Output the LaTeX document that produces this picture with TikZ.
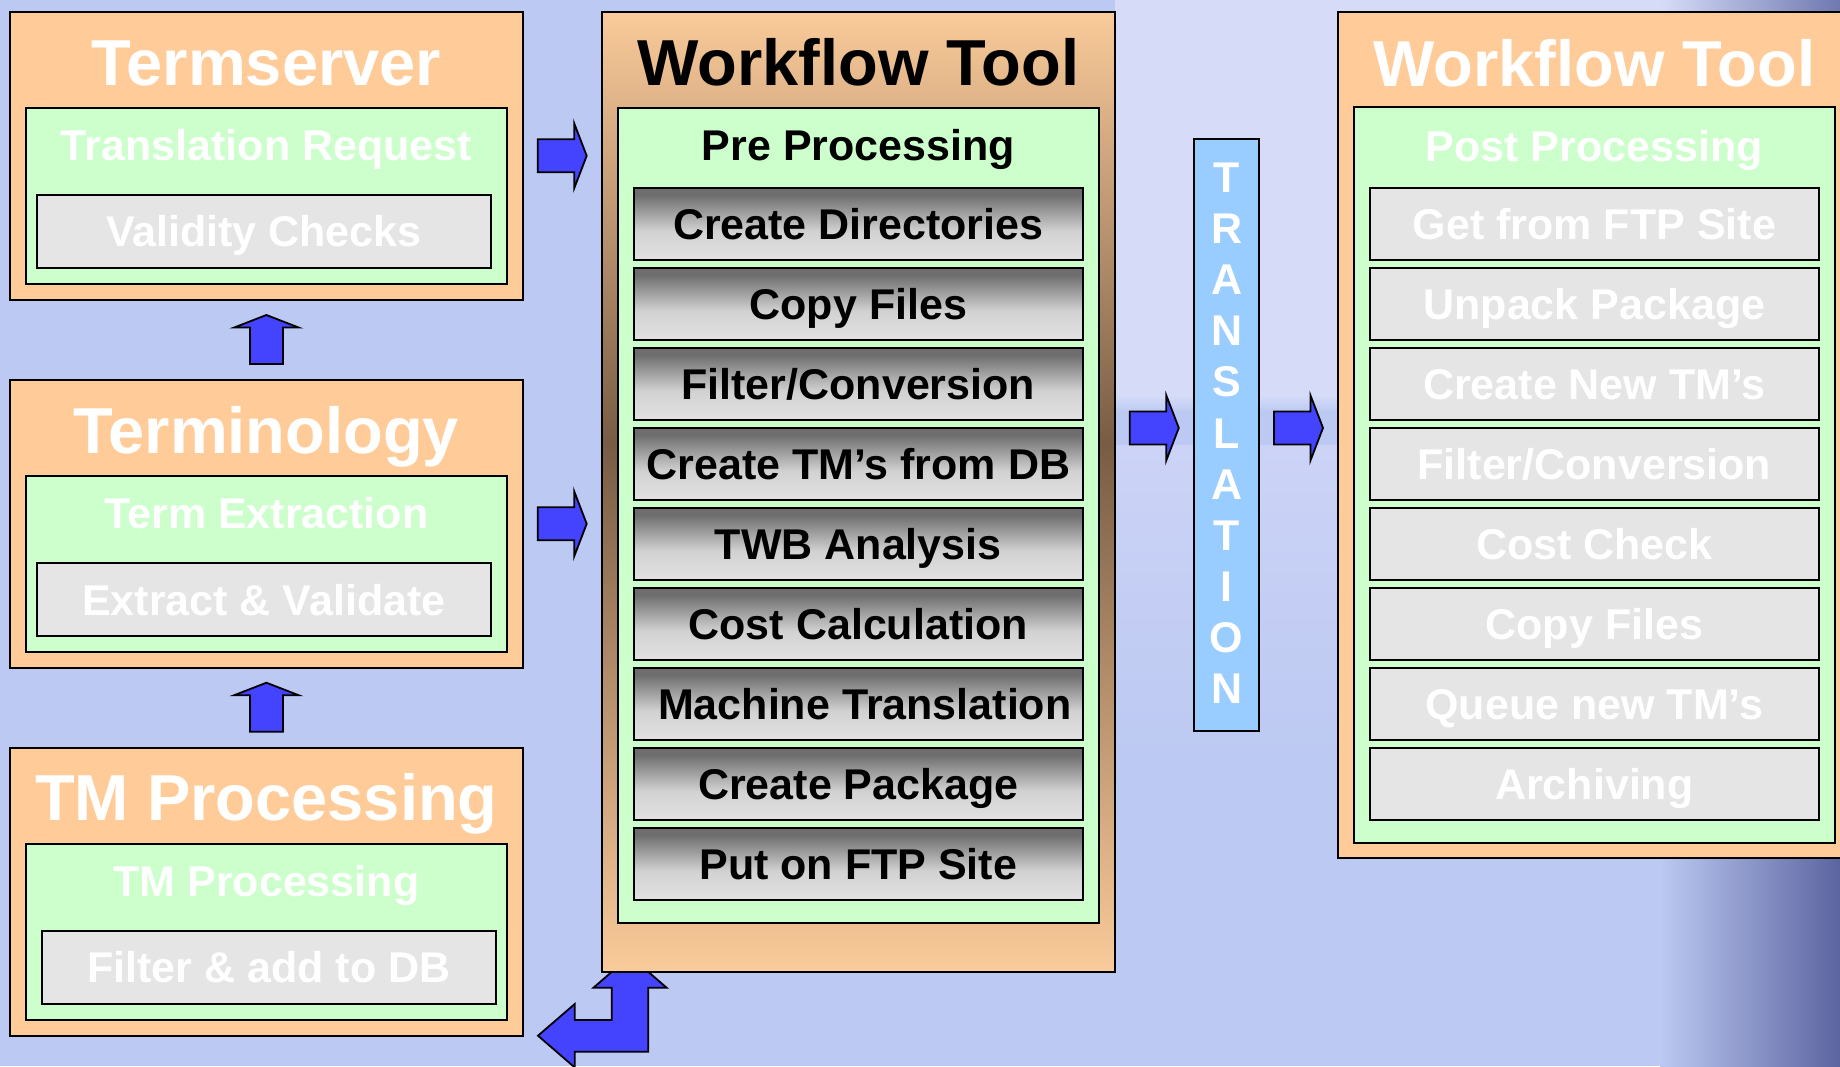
\documentclass[tikz,border=0pt]{standalone}
\usepackage{fontspec}
\setmainfont{Liberation Sans}
\usetikzlibrary{fit}

\definecolor{bgblue}{RGB}{188,201,242}
\definecolor{bglight}{RGB}{214,220,248}
\definecolor{bgmid}{RGB}{204,211,246}
\definecolor{bgdark}{RGB}{92,100,160}
\definecolor{boxorange}{RGB}{255,204,153}
\definecolor{boxgreen}{RGB}{204,255,204}
\definecolor{itemgray}{RGB}{229,229,229}
\definecolor{barblue}{RGB}{153,204,255}
\definecolor{arrowblue}{RGB}{68,68,255}
\definecolor{wfbrown}{RGB}{120,92,68}
\definecolor{wforange}{RGB}{250,203,154}
\definecolor{shadelight}{RGB}{226,226,226}
\definecolor{shademid}{RGB}{210,210,210}
\definecolor{shadedark}{RGB}{150,150,150}
\definecolor{shadetop}{RGB}{110,110,110}

% orange -> brown -> orange band of the central workflow panel
\pgfdeclareverticalshading{wfshade}{100bp}{color(0bp)=(wforange); color(25bp)=(wforange); color(52.5bp)=(wfbrown); color(75bp)=(wforange); color(100bp)=(wforange)}
% dark-top metallic look of the pre-processing steps
\pgfdeclareverticalshading{stepshade}{100bp}{color(0bp)=(shadelight); color(25bp)=(shadelight); color(45bp)=(shademid); color(60bp)=(shadedark); color(70bp)=(shadetop); color(100bp)=(shadetop)}

\newcommand\titlefont{\fontsize{65}{70}\selectfont\bfseries}
\newcommand\itemfont{\fontsize{43}{48}\selectfont\bfseries}

\tikzset{
  panel/.style={draw=black, line width=2.2pt, fill=boxorange, inner sep=0pt},
  wfpanel/.style={draw=black, line width=2.2pt, shade, shading=wfshade, inner sep=0pt},
  stage/.style={draw=black, line width=2pt, fill=boxgreen, inner sep=0pt},
  paleitem/.style={draw=black, line width=2pt, fill=itemgray, inner sep=0pt},
  darkitem/.style={draw=black, line width=2pt, shade, shading=stepshade, inner sep=0pt},
  titletext/.style={font=\titlefont, inner sep=0pt, anchor=base},
  subtext/.style={font=\itemfont, inner sep=0pt, anchor=base},
  barletter/.style={font=\itemfont, text=white, inner sep=0pt, anchor=base},
  blockarrow/.style={draw=black, line width=1.8pt, fill=arrowblue, line join=miter},
  rarrow/.pic={\path[blockarrow] (0,-16.5) -- (36.5,-16.5) -- (36.5,-32.5) -- (49,0)
      -- (36.5,32.5) -- (36.5,16.5) -- (0,16.5) -- cycle;},
  uarrow/.pic={\path[blockarrow] (-16.5,0) -- (-16.5,-36.5) -- (-32.2,-36.5) -- (0,-49)
      -- (32.2,-36.5) -- (16.5,-36.5) -- (16.5,0) -- cycle;},
}
% label of a step box: capitals centred on the box's middle line
\newcommand\steplabel[3][0pt]{%
  \node[subtext, text=#3] at ([xshift=#1, yshift=-15.4pt]#2.center) }

\begin{document}
\begin{tikzpicture}[x=1pt,y=-1pt]
\clip (0,0) rectangle (1840,1066);

% backdrop
\fill[bgblue] (0,0) rectangle (1840,1066);
\fill[bglight] (1115,0) rectangle (1340,395);
\fill[bglight] (1115,0) rectangle (1660,11.7);
\shade[top color=bglight, bottom color=bgblue] (1115,395) rectangle (1340,412);
\shade[top color=bgmid, bottom color=bgblue] (1115,445) rectangle (1340,760);
\shade[left color=bglight, right color=bgdark!80!bgblue] (1660,0) rectangle (1840,11.7);
\shade[left color=bgblue, right color=bgdark] (1660,858) rectangle (1840,1066);

% return arrow, partly hidden behind the workflow panel
\coordinate (ret) at (538,1035.7);
\path[blockarrow] (ret) -- (574.7,1004) -- (574.7,1020) -- (611.8,1020) -- (611.8,987.7)
  -- (593.5,987.7) -- (630,956) -- (666.6,987.7) -- (648.2,987.7) -- (648.2,1051.7)
  -- (574.7,1051.7) -- (574.7,1067.4) -- cycle;

% ---------- left column ----------
\node[panel, fit={(10.3,11.7) (522.8,300)}] (ts) {};
\node[stage, fit={(25.6,107.7) (507,284.3)}] (tsS) {};
\node[paleitem, fit={(36.7,195) (491,268)}] (tsI) {};
\steplabel{tsI}{white} {Validity Checks};
\node[titletext, text=white] (tsT) at (266.4,85) {Termserver};
\node[subtext, text=white] (tsL) at (266.4,160.7) {Translation Request};

\node[panel, fit={(10.3,380) (522.8,668.3)}] (te) {};
\node[stage, fit={(25.6,475.7) (507,652)}] (teS) {};
\node[paleitem, fit={(36.7,563.3) (491,636)}] (teI) {};
\steplabel{teI}{white} {Extract \& Validate};
\node[titletext, text=white] (teT) at (266.4,453.3) {Terminology};
\node[subtext, text=white] (teL) at (266.4,528.3) {Term Extraction};

\node[panel, fit={(10.3,747.7) (522.8,1036)}] (tp) {};
\node[stage, fit={(25.6,844) (507,1020)}] (tpS) {};
\node[paleitem, fit={(42,931) (496,1004)}] (tpI) {};
\steplabel{tpI}{white} {Filter \& add to DB};
\node[titletext, text=white] (tpT) at (266.4,820.7) {TM Processing};
\node[subtext, text=white] (tpL) at (266.4,896) {TM Processing};

% ---------- central workflow panel ----------
\node[wfpanel, fit={(602.3,11.7) (1115,971.7)}] (wf) {};
\node[stage, fit={(618.4,108) (1098.6,923.3)}] (wfS) {};
\node[titletext, text=black] (wfT) at (858.5,85.5) {Workflow Tool};
\node[subtext, text=black] (wfL) at (858.5,160.5) {Pre Processing};
\foreach \t/\dx [count=\k from 0] in {{Create Directories}/0, {Copy Files}/0,
    {Filter/Conversion}/0, {Create TM’s from DB}/0, {TWB Analysis}/0,
    {Cost Calculation}/0, {Machine Translation}/6.5, {Create Package}/0,
    {Put on FTP Site}/0}
{
  \node[darkitem, fit={(634,{187.7+80*\k}) (1082.6,{260.2+80*\k})}] (wfI\k) {};
  \steplabel[\dx pt]{wfI\k}{black} {\t};
}

% ---------- translation bar ----------
\node[draw=black, line width=2pt, fill=barblue, inner sep=0pt,
  fit={(1194.4,139.3) (1259,731.2)}] (bar) {};
\foreach \ch [count=\i from 0] in {T,R,A,N,S,L,A,T,I,O,N}
  \node[barletter] (bar\i) at (1226.7,{192.5+51.1*\i}) {\ch};

% ---------- right panel ----------
\node[panel, fit={(1338.3,11.7) (1850,858.3)}] (post) {};
\node[stage, fit={(1354,107) (1835,843.4)}] (postS) {};
\node[titletext, text=white] (postT) at (1594.3,86) {Workflow Tool};
\node[subtext, text=white] (postL) at (1594.3,161) {Post Processing};
\foreach \t [count=\k from 0] in {{Get from FTP Site}, {Unpack Package},
    {Create New TM’s}, {Filter/Conversion}, {Cost Check}, {Copy Files},
    {Queue new TM’s}, {Archiving}}
{
  \node[paleitem, fit={(1370,{187.7+80*\k}) (1818.7,{260.2+80*\k})}] (postI\k) {};
  \steplabel{postI\k}{white} {\t};
}

% ---------- flow arrows ----------
\coordinate (a1) at (537.7,155.8);
\coordinate (a2) at (537.7,523.8);
\coordinate (a3) at (1129.8,427.9);
\coordinate (a4) at (1274,427.9);
\coordinate (u1) at (266.4,364);
\coordinate (u2) at (266.4,731.7);
\pic at (a1) {rarrow};
\pic at (a2) {rarrow};
\pic at (a3) {rarrow};
\pic at (a4) {rarrow};
\pic at (u1) {uarrow};
\pic at (u2) {uarrow};
\end{tikzpicture}
\end{document}
